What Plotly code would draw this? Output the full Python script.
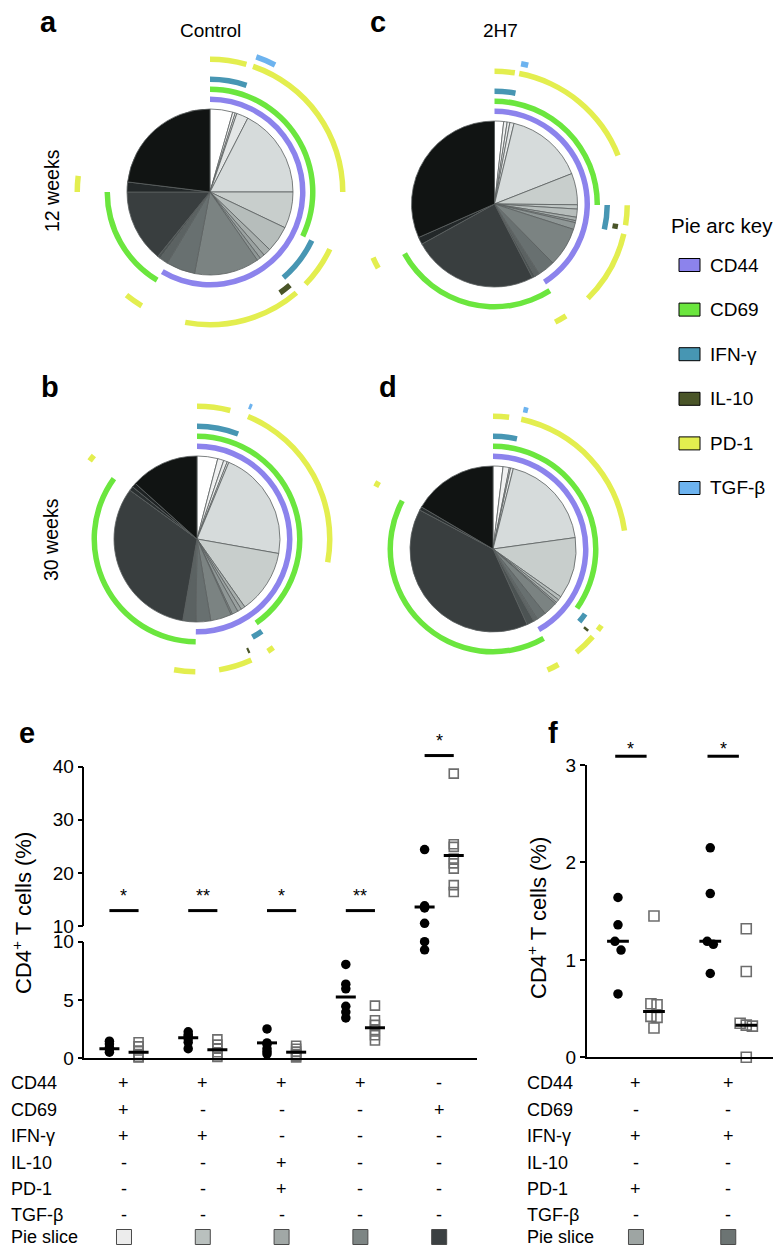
import numpy as np
import plotly.graph_objects as go

W, H = 781, 1248
FONT = "Liberation Sans, Arial, Helvetica, sans-serif"

# ---------------- DATA ----------------
markers = ["CD44", "CD69", "IFN-γ", "IL-10", "PD-1", "TGF-β"]
marker_colors = ["#8c83ec", "#6be63e", "#4796b3", "#4a5528", "#e3ee4f", "#6db3ef"]

# Pie slices: % of CD4+ T cells per Boolean subset, clockwise from 12 o'clock
a_values = [4.42, 0.50, 0.33, 2.28, 17.47, 7.08, 5.14, 1.50, 0.94, 0.69, 12.64, 5.61, 1.67, 0.56, 14.17, 1.94, 23.06]
a_colors = ["#ffffff", "#f0f1f1", "#e8eaea", "#e3e6e6", "#d6dbdb", "#c8cecc", "#b6bdbb", "#a7aeac", "#9ba2a1",
            "#8f9796", "#7b8382", "#687070", "#5b6262", "#4c5353", "#393e3f", "#232829", "#111413"]
a_arcs = {"CD44": [(0, 11)], "CD69": [(0, 5), (12, 14)], "IFN-γ": [(0, 2), (6, 7)], "IL-10": [(8, 9)],
          "PD-1": [(0, 0), (3, 4), (6, 6), (8, 10), (12, 13), (15, 15)], "TGF-β": [(3, 3)]}

b_values = [4.03, 1.19, 0.72, 0.33, 21.53, 12.44, 0.81, 0.78, 1.17, 0.28, 4.06, 2.86, 2.56, 32.25, 0.83, 0.83, 13.33]
b_colors = ["#ffffff", "#f0f1f1", "#e8eaea", "#e3e6e6", "#d6dbdb", "#c8cecc", "#a7aeac", "#9ba2a1", "#8f9796",
            "#858d8c", "#7b8382", "#687070", "#5b6262", "#393e3f", "#2a2f30", "#1e2223", "#111413"]
b_arcs = {"CD44": [(0, 11)], "CD69": [(0, 5), (12, 13)], "IFN-γ": [(0, 2), (6, 7)], "IL-10": [(9, 9)],
          "PD-1": [(0, 0), (4, 4), (6, 6), (10, 10), (12, 12), (14, 14)], "TGF-β": [(3, 3)]}

c_values = [1.78, 0.67, 0.53, 0.81, 15.25, 6.11, 0.83, 1.58, 0.67, 0.39, 1.33, 7.64, 3.36, 0.92, 0.58, 24.53, 1.42, 31.61]
c_colors = ["#ffffff", "#f0f1f1", "#e8eaea", "#e3e6e6", "#d6dbdb", "#c8cecc", "#bfc6c4", "#b6bdbb", "#a7aeac",
            "#9ba2a1", "#8f9796", "#7b8382", "#687070", "#5b6262", "#4c5353", "#393e3f", "#232829", "#111413"]
c_arcs = {"CD44": [(0, 12)], "CD69": [(0, 5), (13, 15)], "IFN-γ": [(0, 2), (6, 9)], "IL-10": [(8, 8)],
          "PD-1": [(0, 1), (3, 4), (6, 7), (10, 11), (13, 14), (16, 16)], "TGF-β": [(3, 3)]}

d_values = [1.94, 1.22, 0.25, 0.53, 18.86, 11.97, 0.72, 0.64, 0.33, 2.72, 1.83, 0.78, 1.47, 39.5, 0.69, 16.53]
d_colors = ["#ffffff", "#f0f1f1", "#e8eaea", "#e3e6e6", "#d6dbdb", "#c8cecc", "#b6bdbb", "#a7aeac", "#9ba2a1",
            "#7b8382", "#687070", "#5f6666", "#4c5353", "#393e3f", "#2a2f30", "#111413"]
d_arcs = {"CD44": [(0, 11)], "CD69": [(0, 5), (12, 13)], "IFN-γ": [(0, 2), (6, 7)], "IL-10": [(8, 8)],
          "PD-1": [(0, 0), (3, 4), (6, 6), (9, 9), (12, 12), (14, 14)], "TGF-β": [(3, 3)]}

# Panel e (% CD4+ T cells), control (black) vs 2H7 (grey)
e_control = [[1.45, 1.2, 0.9, 0.75, 0.5],
             [2.25, 2.0, 1.85, 1.65, 1.35, 0.8],
             [2.5, 1.3, 1.2, 0.8, 0.55, 0.35],
             [8.05, 6.35, 5.95, 4.45, 3.95, 3.45],
             [24.4, 13.8, 13.4, 10.5, 10.0, 9.3]]
e_2h7 = [[1.35, 1.0, 0.65, 0.35, 0.1, 0.05],
         [1.6, 1.15, 0.8, 0.5, 0.25, 0.1],
         [1.05, 0.8, 0.55, 0.35, 0.15, 0.05],
         [4.5, 3.25, 2.85, 2.4, 1.95, 1.5],
         [38.7, 25.4, 24.9, 22.7, 21.8, 20.8, 17.7, 16.4]]
e_control_line = [0.8, 1.75, 1.3, 5.25, 13.6]
e_2h7_line = [0.5, 0.7, 0.5, 2.6, 23.3]
e_sig = ["*", "**", "*", "**", "*"]

# Panel f
f_control = [[1.64, 1.36, 1.19, 1.10, 0.65],
             [2.15, 1.68, 1.19, 1.16, 0.86]]
f_2h7 = [[1.45, 0.55, 0.54, 0.42, 0.41, 0.30],
         [1.32, 0.88, 0.35, 0.33, 0.32, 0.0]]
f_control_line = [1.19, 1.19]
f_2h7_line = [0.47, 0.33]
f_sig = ["*", "*"]

table_rows = ["CD44", "CD69", "IFN-γ", "IL-10", "PD-1", "TGF-β", "Pie slice"]
e_table = [["+", "+", "+", "+", "-"],
           ["+", "-", "-", "-", "+"],
           ["+", "+", "-", "-", "-"],
           ["-", "-", "+", "-", "-"],
           ["-", "-", "+", "-", "-"],
           ["-", "-", "-", "-", "-"]]
e_slice_colors = ["#ececec", "#b9c0be", "#a1a8a6", "#7d8584", "#3b4042"]
f_table = [["+", "+"], ["-", "-"], ["+", "+"], ["-", "-"], ["+", "-"], ["-", "-"]]
f_slice_colors = ["#9ea5a3", "#6c7473"]

# ---------------- LAYOUT HELPERS ----------------
def px(x):
    return x / W


def py(y):
    return 1 - y / H


fig = go.Figure()
shapes = []
annotations = []


def text(x, y, s, size=18, xanchor="center", yanchor="middle", angle=0, bold=False, xref="paper", yref="paper"):
    annotations.append(dict(x=x, y=y, xref=xref, yref=yref, text=("<b>%s</b>" % s) if bold else s,
                            showarrow=False, xanchor=xanchor, yanchor=yanchor, textangle=angle,
                            font=dict(family=FONT, size=size, color="black")))


# ---------------- PIES ----------------
S = 150          # polar radius in px (radial range 0..S)
PIE_R = 83
RING0, RING_STEP, RING_W = 90, 10, 5.5


def add_pie(name, cx, cy, values, colors, arcs):
    vals = np.array(values, float)
    cum = np.concatenate([[0], np.cumsum(vals)]) / vals.sum() * 360
    mids = (cum[:-1] + cum[1:]) / 2
    fig.add_trace(go.Barpolar(theta=mids, width=np.diff(cum), r=[PIE_R] * len(vals),
                              marker=dict(color=colors, line=dict(color="#5c6161", width=0.8)),
                              subplot=name, showlegend=False, hoverinfo="skip"))
    for k, m in enumerate(markers):
        rngs = arcs.get(m, [])
        if not rngs:
            continue
        st = np.array([cum[i0] for i0, i1 in rngs])
        en = np.array([cum[i1 + 1] for i0, i1 in rngs])
        fig.add_trace(go.Barpolar(theta=(st + en) / 2, width=en - st, r=[RING_W] * len(rngs),
                                  base=[RING0 + k * RING_STEP] * len(rngs),
                                  marker=dict(color=marker_colors[k], line=dict(width=0)),
                                  subplot=name, showlegend=False, hoverinfo="skip"))
    return dict(domain=dict(x=[px(cx - S), px(cx + S)], y=[py(cy + S), py(cy - S)]),
                radialaxis=dict(range=[0, S], visible=False),
                angularaxis=dict(rotation=90, direction="clockwise", visible=False),
                bgcolor="rgba(0,0,0,0)", barmode="overlay", hole=0)


polar_a = add_pie("polar", 210, 192, a_values, a_colors, a_arcs)
polar_b = add_pie("polar2", 197, 539, b_values, b_colors, b_arcs)
polar_c = add_pie("polar3", 494.5, 204, c_values, c_colors, c_arcs)
polar_d = add_pie("polar4", 493, 549, d_values, d_colors, d_arcs)

# titles / labels for pies
text(px(210), py(30), "Control", 19)
text(px(500), py(30), "2H7", 19)
text(px(52), py(191), "12 weeks", 19.5, angle=-90)
text(px(51), py(540), "30 weeks", 19.5, angle=-90)
for lab, x, y in [("a", 48, 22), ("c", 378, 22), ("b", 50, 387), ("d", 388, 387), ("e", 27, 733), ("f", 553, 733)]:
    text(px(x), py(y), lab, 29, bold=True)

# legend (pie arc key)
text(px(669), py(225), "Pie arc key", 20.5, xanchor="left")
for k, m in enumerate(markers):
    yc = 265 + k * 44.6
    shapes.append(dict(type="rect", xref="paper", yref="paper", x0=px(679), x1=px(700), y0=py(yc + 6.5), y1=py(yc - 6.5),
                       fillcolor=marker_colors[k], line=dict(color="black", width=1)))
    text(px(708), py(yc), m, 19, xanchor="left")

# ---------------- PANEL E ----------------
E_X_DOM = [px(84.4), px(477)]
E_X_RNG = [0.4975, 5.48]
E_Y_DOM = [py(1058), py(941.7)]
E_Y_RNG = [0, 10]
E_Y2_DOM = [py(926), py(766.7)]
E_Y2_RNG = [10, 40]
F_X_DOM = [px(586.7), px(773.3)]
F_X_RNG = [0.466, 2.488]
F_Y_DOM = [py(1057.3), py(765)]
F_Y_RNG = [0, 3]


def to_paper(v, dom, rng):
    return dom[0] + (v - rng[0]) / (rng[1] - rng[0]) * (dom[1] - dom[0])


E_OFF = 0.185
LINE_HALF_E = 0.127


def add_e_points(groups, offset, style):
    for i, vals in enumerate(groups):
        xc = i + 1 + offset
        lo = [v for v in vals if v <= 10]
        hi = [v for v in vals if v > 10]
        for ax, vv in (("y", lo), ("y2", hi)):
            if vv:
                fig.add_trace(go.Scatter(x=[xc] * len(vv), y=vv, xaxis="x", yaxis=ax, mode="markers",
                                         marker=style, cliponaxis=False, showlegend=False, hoverinfo="skip"))


black_dot = dict(symbol="circle", size=9.5, color="black")
grey_sq_e = dict(symbol="square-open", size=9, color="#6d6d6d", line=dict(width=1.6, color="#6d6d6d"))
add_e_points(e_control, -E_OFF, black_dot)
add_e_points(e_2h7, E_OFF, grey_sq_e)

for lines, offset in ((e_control_line, -E_OFF), (e_2h7_line, E_OFF)):
    for i, m in enumerate(lines):
        xc = i + 1 + offset
        ax = "y" if m <= 10 else "y2"
        fig.add_trace(go.Scatter(x=[xc - LINE_HALF_E, xc + LINE_HALF_E], y=[m, m], xaxis="x", yaxis=ax,
                                 mode="lines", line=dict(color="black", width=3), cliponaxis=False,
                                 showlegend=False, hoverinfo="skip"))

# significance bars (e)
for i, s in enumerate(e_sig):
    lvl, star = (12.9, 15.6) if i < 4 else (42.1, 44.9)
    x0 = to_paper(i + 1 - E_OFF, E_X_DOM, E_X_RNG)
    x1 = to_paper(i + 1 + E_OFF, E_X_DOM, E_X_RNG)
    yy = to_paper(lvl, E_Y2_DOM, E_Y2_RNG)
    shapes.append(dict(type="line", xref="paper", yref="paper", x0=x0, x1=x1, y0=yy, y1=yy,
                       line=dict(color="black", width=3)))
    text((x0 + x1) / 2, to_paper(star, E_Y2_DOM, E_Y2_RNG), s, 18)

# y-title e
text(px(22), py(913), "CD4<sup>+</sup> T cells (%)", 22, angle=-90)

# ---------------- PANEL F ----------------
F_OFF = 0.195
LINE_HALF_F = 0.118
f_xppu = (F_X_DOM[1] - F_X_DOM[0]) * W / (F_X_RNG[1] - F_X_RNG[0])
f_yppu = (F_Y_DOM[1] - F_Y_DOM[0]) * H / (F_Y_RNG[1] - F_Y_RNG[0])


def swarm(vals, size_px):
    vals = np.array(vals, float)
    order = np.argsort(-vals)
    offs = np.zeros(len(vals))
    clusters, cur = [], [order[0]]
    for a, b in zip(order[:-1], order[1:]):
        if (vals[a] - vals[b]) * f_yppu < size_px:
            cur.append(b)
        else:
            clusters.append(cur)
            cur = [b]
    clusters.append(cur)
    for cl in clusters:
        n = len(cl)
        for k, idx in enumerate(cl):
            offs[idx] = (k - (n - 1) / 2) * size_px * 0.68 / f_xppu
    return offs


grey_sq_f = dict(symbol="square-open", size=10, color="#6d6d6d", line=dict(width=1.6, color="#6d6d6d"))
for groups, offset, style in ((f_control, -F_OFF, black_dot), (f_2h7, F_OFF, grey_sq_f)):
    for i, vals in enumerate(groups):
        offs = swarm(vals, 9)
        fig.add_trace(go.Scatter(x=i + 1 + offset + offs, y=vals, xaxis="x2", yaxis="y3", mode="markers",
                                 marker=style, cliponaxis=False, showlegend=False, hoverinfo="skip"))
for lines, offset in ((f_control_line, -F_OFF), (f_2h7_line, F_OFF)):
    for i, m in enumerate(lines):
        xc = i + 1 + offset
        fig.add_trace(go.Scatter(x=[xc - LINE_HALF_F, xc + LINE_HALF_F], y=[m, m], xaxis="x2", yaxis="y3",
                                 mode="lines", line=dict(color="black", width=3), cliponaxis=False,
                                 showlegend=False, hoverinfo="skip"))
for i, s in enumerate(f_sig):
    x0 = to_paper(i + 1 - F_OFF - 0.03, F_X_DOM, F_X_RNG)
    x1 = to_paper(i + 1 + F_OFF - 0.08, F_X_DOM, F_X_RNG)
    yy = to_paper(3.09, F_Y_DOM, F_Y_RNG)
    shapes.append(dict(type="line", xref="paper", yref="paper", x0=x0, x1=x1, y0=yy, y1=yy,
                       line=dict(color="black", width=3)))
    text((x0 + x1) / 2, to_paper(3.16, F_Y_DOM, F_Y_RNG), s, 18)

text(px(537), py(918), "CD4<sup>+</sup> T cells (%)", 22, angle=-90)

# ---------------- TABLES ----------------
row_y = [1083, 1109.5, 1136, 1162.5, 1188.5, 1214.5, 1237]
for r, lab in enumerate(table_rows):
    text(px(9), py(row_y[r]), lab, 18, xanchor="left")
    text(px(525), py(row_y[r]), lab, 18, xanchor="left")
for r in range(6):
    for c in range(5):
        text(to_paper(c + 1, E_X_DOM, E_X_RNG), py(row_y[r]), e_table[r][c], 18)
    for c in range(2):
        text(to_paper(c + 1, F_X_DOM, F_X_RNG), py(row_y[r]), f_table[r][c], 18)
for cols, dom, rng in ((e_slice_colors, E_X_DOM, E_X_RNG), (f_slice_colors, F_X_DOM, F_X_RNG)):
    for c, col in enumerate(cols):
        xc = to_paper(c + 1, dom, rng)
        shapes.append(dict(type="rect", xref="paper", yref="paper", x0=xc - px(7.5), x1=xc + px(7.5),
                           y0=py(row_y[6] + 7.5), y1=py(row_y[6] - 7.5), fillcolor=col,
                           line=dict(color="#4a4a4a", width=1)))

# ---------------- AXES ----------------
tickfont = dict(family=FONT, size=19, color="black")
common_y = dict(showgrid=False, zeroline=False, showline=True, linecolor="black", linewidth=1.5,
                ticks="outside", ticklen=5, tickwidth=1.5, tickcolor="black", tickfont=tickfont,
                automargin=False)
common_x = dict(showgrid=False, zeroline=False, showline=True, linecolor="black", linewidth=1.5,
                showticklabels=False, ticks="", automargin=False)

fig.update_layout(
    width=W, height=H, margin=dict(l=0, r=0, t=0, b=0, pad=0, autoexpand=False),
    paper_bgcolor="white", plot_bgcolor="rgba(0,0,0,0)", showlegend=False,
    polar=polar_a, polar2=polar_b, polar3=polar_c, polar4=polar_d,
    xaxis=dict(domain=E_X_DOM, range=E_X_RNG, anchor="y", **common_x),
    yaxis=dict(domain=E_Y_DOM, range=E_Y_RNG, tickvals=[0, 5, 10], anchor="x", **common_y),
    yaxis2=dict(domain=E_Y2_DOM, range=E_Y2_RNG, tickvals=[10, 20, 30, 40], anchor="x", **common_y),
    xaxis2=dict(domain=F_X_DOM, range=F_X_RNG, anchor="y3", **common_x),
    yaxis3=dict(domain=F_Y_DOM, range=F_Y_RNG, tickvals=[0, 1, 2, 3], anchor="x2", **common_y),
    shapes=shapes, annotations=annotations,
)

fig.write_html("out.html", config={"displayModeBar": False},
               post_script="document.body.style.margin='0';document.body.style.overflow='hidden';")
